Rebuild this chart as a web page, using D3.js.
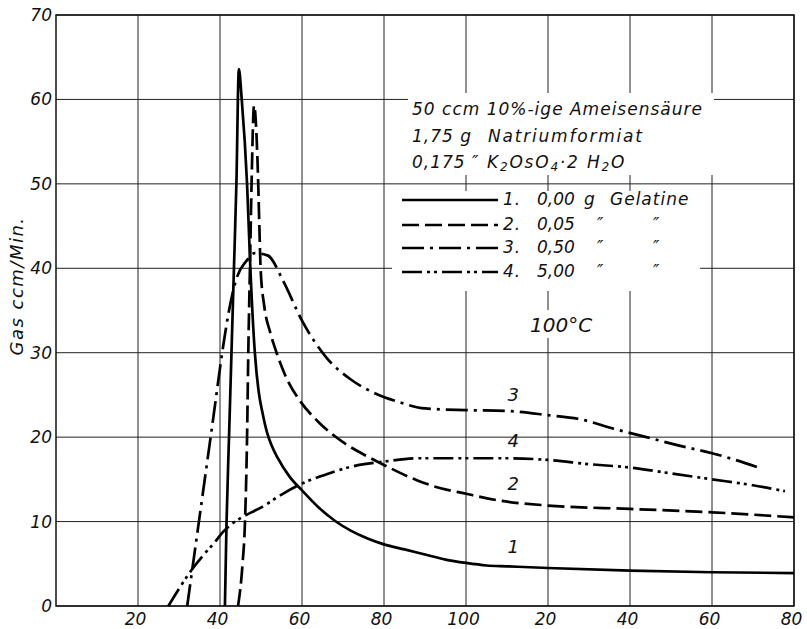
<!DOCTYPE html>
<html><head><meta charset="utf-8">
<script src="https://cdn.jsdelivr.net/npm/d3@7"></script>
<style>
html,body{margin:0;padding:0;background:#fff;}
svg text{font-family:"DejaVu Sans",sans-serif;font-style:italic;fill:#111;}
</style></head>
<body>
<svg id="chart" width="807" height="629"></svg>
<script>
// ---- data ----
const xTicks = [20,40,60,80,100,120,140,160,180];
const xTickLabels = ["20","40","60","80","100","20","40","60","80"];
const yTicks = [0,10,20,30,40,50,60,70];
const yTickLabels = ["0","10","20","30","40","50","60","70"];

const series1 = [[41.2,0],[41.6,10],[42.2,20],[42.8,30],[43.4,40],[44.0,50],[44.6,63.6],[45.3,60],[46.6,50],[47.4,40],[48.5,30],[49.4,25.5],[50.4,22.8],[51.5,20.5],[52.6,19],[54,17.6],[57,15.3],[60,13.7],[64,11.7],[68,10.1],[72,8.9],[76,8.0],[80,7.3],[85,6.7],[90,6.1],[95,5.5],[100,5.1],[105,4.8],[110,4.7],[120,4.5],[140,4.2],[160,4.0],[180,3.9]];
const series2 = [[44.4,0],[45.5,5],[46.1,10],[46.6,20],[46.9,30],[47.3,40],[47.7,50],[48.3,59.3],[49.2,52],[49.6,45],[49.9,40],[50.8,35.5],[52.2,32.5],[53.8,30],[56.2,27],[59.5,24.3],[64,21.8],[70,19.4],[76,17.7],[80,16.7],[88,14.9],[92,14.2],[100,13.3],[108,12.5],[120,11.9],[140,11.5],[160,11.1],[180,10.5]];
const series3 = [[32,0],[35,10.5],[38,21],[41,31.5],[42.2,35],[44.1,38.9],[46.5,40.9],[48.5,41.8],[51.7,41.5],[55.4,38.5],[60,33.8],[66,29.4],[72,26.8],[77.3,25.3],[84,24.1],[90,23.4],[100,23.2],[110,23.1],[120,22.6],[128,22.1],[136,21],[144,20],[152,19],[160,18.1],[172,16.3]];
const series4 = [[27.4,0],[30.2,2.2],[33.1,4.3],[35.9,6],[38.8,7.6],[40.8,8.8],[42.8,9.7],[45,10.4],[50.5,11.8],[55,13.2],[60,14.5],[66,15.6],[72,16.5],[80,17.1],[88,17.5],[100,17.5],[110,17.5],[120,17.3],[130,16.8],[140,16.4],[150,15.7],[160,15.0],[170,14.3],[177.8,13.6]];

const seriesNames = ["1.","2.","3.","4."];
const seriesAmounts = ["0,00","0,05","0,50","5,00"];
const dashes = [null, "17,6", "22,6,3,6", "20,5,3,4,3,5"];
const curveLabels = ["1","2","3","4"];
const curveLabelPos = [[111.5,6.3],[111.5,13.7],[111.5,24.3],[111.5,18.8]];

// ---- chart ----
const svg = d3.select("#chart");
const x = d3.scaleLinear().domain([0,180]).range([56,794]);
const y = d3.scaleLinear().domain([0,70]).range([606,15]);

// grid
const g = svg.append("g");
g.selectAll(".vg").data(xTicks).enter().append("line")
  .attr("x1",d=>x(d)).attr("x2",d=>x(d)).attr("y1",y(0)).attr("y2",y(70))
  .attr("stroke","#222").attr("stroke-width",1);
g.selectAll(".hg").data(yTicks).enter().append("line")
  .attr("x1",x(0)).attr("x2",x(180)).attr("y1",d=>y(d)).attr("y2",d=>y(d))
  .attr("stroke","#222").attr("stroke-width",1);
// frame
svg.append("rect").attr("x",x(0)).attr("y",y(70)).attr("width",x(180)-x(0)).attr("height",y(0)-y(70))
  .attr("fill","none").attr("stroke","#111").attr("stroke-width",1.5);

// white boxes behind annotations
svg.append("rect").attr("x",408).attr("y",93).attr("width",306).attr("height",82).attr("fill","#fff");
svg.append("rect").attr("x",392).attr("y",191).attr("width",308).attr("height",100).attr("fill","#fff");
svg.append("rect").attr("x",525).attr("y",310).attr("width",75).attr("height",28).attr("fill","#fff");

// axes labels
const xAxis = d3.axisBottom(x).tickValues(xTicks).tickSize(0).tickFormat((d,i)=>xTickLabels[i]);
const xa = svg.append("g").attr("transform",`translate(0,${y(0)})`).call(xAxis);
xa.select(".domain").remove();
xa.selectAll("text").attr("dy",null).attr("y",19).attr("x",-3)
  .style("font-size","17px").style("font-style","italic").style("font-family","DejaVu Sans").attr("fill","#111");
const yAxis = d3.axisLeft(y).tickValues(yTicks).tickSize(0).tickFormat((d,i)=>yTickLabels[i]);
const ya = svg.append("g").attr("transform",`translate(${x(0)},0)`).call(yAxis);
ya.select(".domain").remove();
ya.selectAll("text").attr("x",-4)
  .style("font-size","17px").style("font-style","italic").style("font-family","DejaVu Sans").attr("fill","#111");

svg.append("text").attr("transform","translate(23,286) rotate(-90)")
  .attr("text-anchor","middle").style("font-size","18px").style("letter-spacing","1.5px").text("Gas ccm/Min.");

// curves
const line = d3.line().x(d=>x(d[0])).y(d=>y(d[1])).curve(d3.curveMonotoneX);
[series1,series2,series3,series4].forEach((s,i)=>{
  svg.append("path").attr("d",line(s)).attr("fill","none").attr("stroke","#000")
    .attr("stroke-width",2.7).attr("stroke-dasharray",dashes[i]);
});
curveLabels.forEach((t,i)=>{
  svg.append("text").attr("x",x(curveLabelPos[i][0])).attr("y",y(curveLabelPos[i][1]))
    .attr("text-anchor","middle").style("font-size","18px").text(t);
});

// annotation text
const fs = "17px";
function txt(xp, yp, s, ls){ return svg.append("text").attr("x",xp).attr("y",yp).style("font-size",fs).style("letter-spacing",ls===undefined?"1px":ls).text(s); }
txt(412,115,"50 ccm 10%-ige Ameisensäure");
txt(412,142,"1,75 g");
txt(488,142,"Natriumformiat","1.8px");
txt(412,168,"0,175 ″");
const k = svg.append("text").attr("x",487).attr("y",168).style("font-size",fs).style("letter-spacing","1.8px");
k.append("tspan").text("K");
k.append("tspan").attr("baseline-shift","-25%").style("font-size","12px").text("2");
k.append("tspan").text("OsO");
k.append("tspan").attr("baseline-shift","-25%").style("font-size","12px").text("4");
k.append("tspan").text("·2 H");
k.append("tspan").attr("baseline-shift","-25%").style("font-size","12px").text("2");
k.append("tspan").text("O");

// legend
const rowsY = [205,230,253,277];
rowsY.forEach((ry,i)=>{
  svg.append("line").attr("x1",402).attr("x2",498).attr("y1",ry-5).attr("y2",ry-5)
    .attr("stroke","#000").attr("stroke-width",2.7).attr("stroke-dasharray",dashes[i]);
  txt(503,ry,seriesNames[i]);
  txt(537,ry,seriesAmounts[i],"0px");
  if(i===0){
    txt(584,ry,"g");
    txt(610,ry,"Gelatine");
  } else {
    txt(597,ry,"″");
    txt(653,ry,"″");
  }
});
svg.append("text").attr("x",530).attr("y",332).style("font-size","20px").text("100°C");
</script>
</body></html>
